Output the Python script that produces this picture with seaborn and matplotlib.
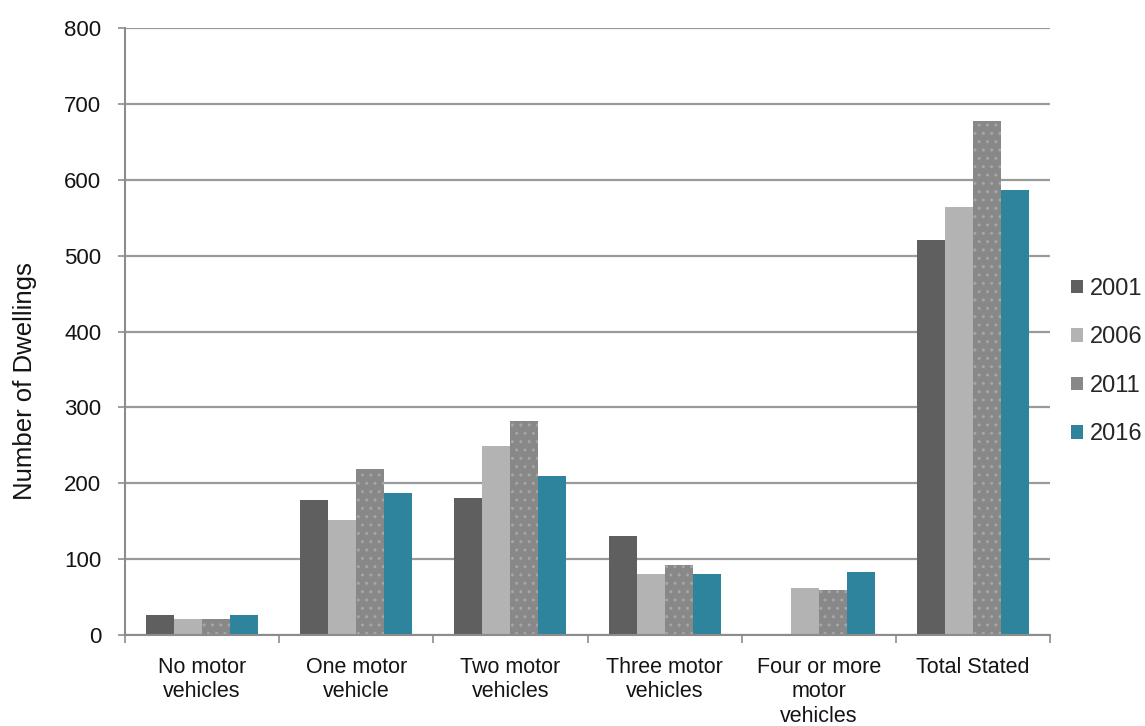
import matplotlib
matplotlib.use("Agg")
import matplotlib.pyplot as plt
from matplotlib.patches import Patch
from matplotlib.ticker import FixedLocator
import seaborn as sns
import pandas as pd

categories = ["No motor\nvehicles", "One motor\nvehicle", "Two motor\nvehicles",
              "Three motor\nvehicles", "Four or more\nmotor\nvehicles", "Total Stated"]
years = ["2001", "2006", "2011", "2016"]
values_2001 = [27, 178, 181, 130, 0, 520]
values_2006 = [21, 151, 249, 80, 62, 564]
values_2011 = [21, 219, 282, 92, 59, 677]
values_2016 = [27, 187, 210, 80, 83, 587]
colors = ["#5f5f5f", "#b3b3b3", "#888888", "#2e849c"]
y_ticks = [0, 100, 200, 300, 400, 500, 600, 700, 800]

series = dict(zip(years, [values_2001, values_2006, values_2011, values_2016]))
rows = [(cat, yr, v) for yr in years for cat, v in zip(categories, series[yr])]
df = pd.DataFrame(rows, columns=["category", "year", "dwellings"])

sns.set_theme(style="white")
plt.rcParams["font.family"] = ["Liberation Sans", "DejaVu Sans"]
plt.rcParams["hatch.linewidth"] = 1.0

fig = plt.figure(figsize=(11.45, 7.26), dpi=100)
ax = fig.add_axes([125 / 1145, 91 / 726, 925 / 1145, 607 / 726])

sns.barplot(data=df, x="category", y="dwellings", hue="year", order=categories,
            hue_order=years, palette=colors, width=0.727, gap=0, saturation=1,
            linewidth=0, legend=False, ax=ax)

# dotted texture on the 2011 series
for bar in ax.containers[2]:
    bar.set_hatch("..")
    bar.set_edgecolor("#a6a6a6")
    bar.set_linewidth(0)

ax.set_xlim(-0.5, len(categories) - 0.5)
ax.set_ylim(0, 800)
ax.set_yticks(y_ticks)
ax.set_axisbelow(True)
ax.yaxis.grid(True, color="#9a9a9a", linewidth=1.6)
ax.xaxis.grid(False)

for side in ("top", "right"):
    ax.spines[side].set_visible(False)
for side in ("left", "bottom"):
    ax.spines[side].set_color("#8c8c8c")
    ax.spines[side].set_linewidth(1.5)

ax.tick_params(axis="y", which="major", left=True, length=5, width=1.2,
               color="#8c8c8c", pad=12, labelsize=16, labelcolor="#141414")
ax.tick_params(axis="x", which="major", bottom=False, length=0, pad=16,
               labelsize=15.5, labelcolor="#141414")
ax.xaxis.set_minor_locator(FixedLocator([i - 0.5 for i in range(len(categories) + 1)]))
ax.tick_params(axis="x", which="minor", bottom=True, length=6, width=1.2,
               color="#8c8c8c")
for lbl in ax.get_xticklabels():
    lbl.set_verticalalignment("top")
    lbl.set_linespacing(1.2)

ax.set_xlabel("")
ax.set_ylabel("Number of Dwellings", fontsize=18.5, color="#141414")
ax.yaxis.set_label_coords(-0.095, 0.418)

handles = [Patch(facecolor=c, edgecolor="none") for c in colors]
fig.legend(handles, years, loc="center left", bbox_to_anchor=(1062 / 1145, 0.502),
           frameon=False, fontsize=17, handlelength=0.5, handleheight=0.5,
           handletextpad=0.3, labelspacing=1.12, borderaxespad=0)

fig.savefig("out.png", dpi=100)
